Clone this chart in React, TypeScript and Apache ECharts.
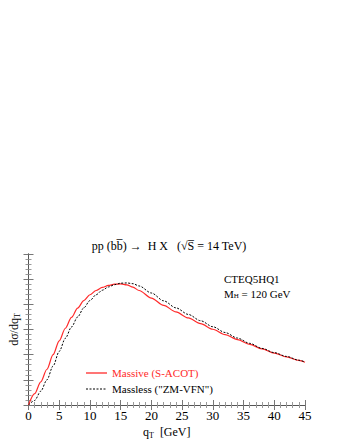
import React, { useEffect, useRef } from "react";
import * as echarts from "echarts";

const qT = [0, 1, 2, 3, 4, 5, 6, 7, 8, 9, 10, 11, 12, 13, 14, 15, 16, 17, 18, 20, 22, 24, 26, 28, 30, 32, 34, 36, 38, 40, 42, 44, 45];
const massive = [0, 0.45, 0.92, 1.42, 2.0, 2.55, 3.05, 3.48, 3.85, 4.15, 4.38, 4.55, 4.67, 4.75, 4.80, 4.81, 4.77, 4.68, 4.55, 4.25, 3.96, 3.70, 3.46, 3.23, 3.01, 2.80, 2.60, 2.41, 2.23, 2.06, 1.91, 1.77, 1.70];
const massless = [0, 0.18, 0.55, 1.0, 1.55, 2.13, 2.65, 3.10, 3.50, 3.86, 4.15, 4.38, 4.56, 4.69, 4.78, 4.84, 4.85, 4.82, 4.73, 4.45, 4.14, 3.86, 3.60, 3.35, 3.11, 2.88, 2.66, 2.45, 2.25, 2.08, 1.93, 1.78, 1.71];
const xTicks = [0, 5, 10, 15, 20, 25, 30, 35, 40, 45];
const seriesNames = ["Massive (S-ACOT)", "Massless (\"ZM-VFN\")"];

const FONT = "'Liberation Serif', 'Times New Roman', serif";
const RED = "#ff2a2a";

export default function App() {
  const ref = useRef<HTMLDivElement>(null);
  useEffect(() => {
    const chart = echarts.init(ref.current!, null, { renderer: "svg" });
    const axisLine = { show: true, lineStyle: { color: "#555", width: 1 } };
    const tick = { show: true, inside: true, length: 5, lineStyle: { color: "#777" } };
    const minor = { show: true, splitNumber: 5, length: 3, lineStyle: { color: "#999" } };
    chart.setOption({
      animation: false,
      textStyle: { fontFamily: FONT },
      title: {
        text: "pp (bb\u0305) \u2192  H X   (\u221AS\u0305 = 14 TeV)",
        left: 164,
        textAlign: "center",
        top: 235,
        textStyle: { fontFamily: FONT, fontSize: 12, fontWeight: "normal", color: "#000" },
      },
      grid: { left: 23, right: 35, top: 254, bottom: 31 },
      xAxis: [
        {
          type: "value",
          min: 0,
          max: 45,
          interval: 5,
          position: "bottom",
          axisLine,
          axisTick: tick,
          minorTick: minor,
          splitLine: { show: false },
          axisLabel: { color: "#000", fontFamily: FONT, fontSize: 13, margin: 4, formatter: (v: number) => (xTicks.includes(v) ? String(v) : "") },
          name: "q{s|T}  [GeV]",
          nameLocation: "middle",
          nameGap: 19,
          nameTextStyle: {
            color: "#000",
            fontFamily: FONT,
            fontSize: 12,
            rich: { s: { fontSize: 8, padding: [7, 0, 0, 0], fontFamily: FONT } },
          },
        },
        {
          type: "value",
          min: 0,
          max: 45,
          interval: 5,
          position: "top",
          axisLine,
          axisTick: tick,
          minorTick: minor,
          splitLine: { show: false },
          axisLabel: { show: false },
        },
      ],
      yAxis: [
        {
          type: "value",
          min: 0,
          max: 6,
          interval: 1,
          position: "left",
          axisLine,
          axisTick: tick,
          minorTick: minor,
          splitLine: { show: false },
          axisLabel: { show: false },
          name: "d\u03C3/dq{s|T}",
          nameLocation: "middle",
          nameGap: 7,
          nameRotate: 90,
          nameTextStyle: {
            color: "#000",
            fontFamily: FONT,
            fontSize: 12,
            rich: { s: { fontSize: 8, padding: [7, 0, 0, 0], fontFamily: FONT } },
          },
        },
        {
          type: "value",
          min: 0,
          max: 6,
          interval: 1,
          position: "right",
          axisLine,
          axisTick: tick,
          minorTick: minor,
          splitLine: { show: false },
          axisLabel: { show: false },
        },
      ],
      graphic: [
        {
          type: "text",
          left: 224,
          top: 273,
          style: { text: "CTEQ5HQ1", font: `11px ${FONT}`, fill: "#000" },
        },
        {
          type: "text",
          left: 224,
          top: 288,
          style: {
            text: "M{s|H} = 120 GeV",
            font: `11px ${FONT}`,
            fill: "#000",
            rich: { s: { fontSize: 7, padding: [5, 0, 0, 0], fontFamily: FONT } },
          },
        },
        {
          type: "line",
          shape: { x1: 86, y1: 373, x2: 107, y2: 373 },
          style: { stroke: RED, lineWidth: 1.3 },
        },
        {
          type: "text",
          left: 112,
          top: 367,
          style: { text: seriesNames[0], font: `11px ${FONT}`, fill: RED },
        },
        {
          type: "line",
          shape: { x1: 86, y1: 389, x2: 107, y2: 389 },
          style: { stroke: "#000", lineWidth: 1, lineDash: [2, 1.5] },
        },
        {
          type: "text",
          left: 112,
          top: 383,
          style: { text: seriesNames[1], font: `11px ${FONT}`, fill: "#000" },
        },
      ],
      series: [
        {
          name: seriesNames[0],
          type: "line",
          smooth: 0.3,
          smoothMonotone: "x",
          symbol: "none",
          data: qT.map((x, i) => [x, massive[i]]),
          lineStyle: { color: RED, width: 1.2 },
        },
        {
          name: seriesNames[1],
          type: "line",
          smooth: 0.3,
          smoothMonotone: "x",
          symbol: "none",
          data: qT.map((x, i) => [x, massless[i]]),
          lineStyle: { color: "#000", width: 1, type: [2, 1.5] },
        },
      ],
    });
    return () => chart.dispose();
  }, []);
  return <div ref={ref} style={{ width: 340, height: 440, position: "absolute", left: 0, top: 0 }} />;
}
